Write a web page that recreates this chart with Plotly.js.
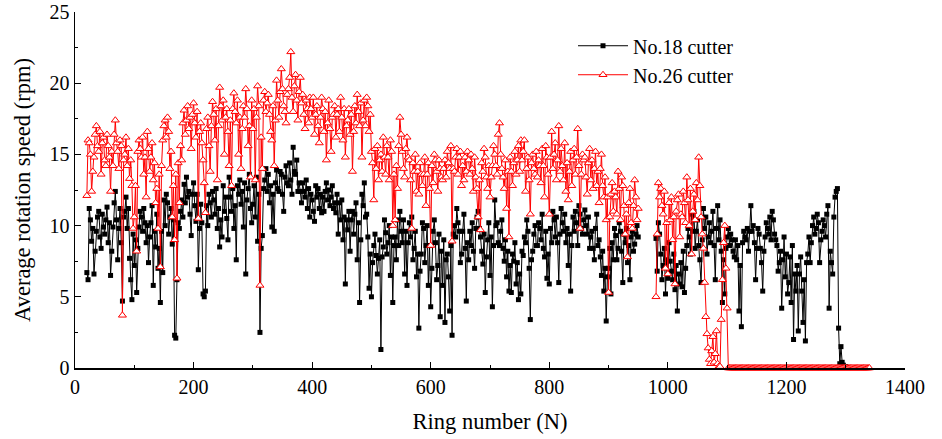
<!DOCTYPE html>
<html>
<head>
<meta charset="utf-8">
<script src="https://cdn.plot.ly/plotly-3.0.1.min.js"></script>
<style>html,body{margin:0;padding:0;background:#fff;}</style>
</head>
<body>
<div id="chart" style="width:942px;height:439px;"></div>
<script>
// Ring numbers: first sampled ring and sampling step
const ringStart = 20;
const ringStep = 2;

// No.18 cutter, average rotation speed (rpm), rings 20..1300 every 2 rings (null = no data)
const cutter18 = [
  6.7,6.2, 11.2,10.4, 8.9,9.8, 6.6,8.2, 9.6,10.6, 11.0,9.2, 8.4,10.8, 9.9,9.4, 10.4,11.3, 8.8,10.2,
  6.5,8.2, 9.9,11.6, 12.4,10.4, 7.6,9.8, 11.2,8.8, 4.7,10.6, 11.0,12.0, 9.8,11.2, 7.7,6.2, 4.8,9.4,
  7.2,9.0, 5.3,8.4, 9.9,11.0, 10.6,9.6, 11.2,10.2, 8.8,10.0, 7.4,9.2, 10.2,11.4, 5.8,9.6, 8.5,10.8,
  7.0,8.4, 4.6,9.6, 6.7,11.8, 10.0,12.2, 11.6,9.4, 10.6,11.2, 8.7,10.4, 2.3,2.1, 6.2,10.2, 9.8,11.0,
  11.8,10.6, 12.9,11.6, 13.4,12.0, 12.4,10.8, 9.3,12.2, 13.0,11.4, 10.3,12.2, 6.9,9.8, 11.5,10.2, 5.2,5.0,
  5.4,11.4, 10.0,12.2, 11.6,10.6, 12.4,11.8, 10.8,12.6, 9.8,11.2, 8.5,10.4, 9.2,12.8, 11.0,12.0, 10.5,9.0,
  13.4,12.0, 11.0,12.6, 9.8,11.4, 7.6,12.8, 12.2,13.2, 11.5,12.4, 9.9,13.0, 6.6,11.8, 12.6,13.6, 11.2,10.2,
  11.5,12.8, 10.6,13.4, 8.9,12.2, 2.5,8.4, 9.3,12.6, 13.2,14.0, 12.4,13.6, 11.6,12.8, 9.9,12.2, 9.6,13.0,
  13.9,12.6, 12.4,13.8, 13.6,12.2, 11.0,13.4, 14.2,13.0, 12.8,14.4, 13.2,12.2, 15.5,13.8, 13.6,14.6, 12.4,13.0,
  12.4,11.6, 13.0,12.4, 12.0,13.2, 11.2,12.6, 10.6,12.2, 11.8,11.0, 10.3,12.8, 12.0,12.6, 11.2,12.2, 10.9,12.0,
  11.0,12.4, 13.0,11.8, 12.5,11.4, 12.0,12.8, 11.2,11.6, 10.9,12.2, 9.4,11.6, 10.4,11.8, 9.0,10.6, 5.9,10.4,
  9.7,11.0, 8.2,10.4, 11.0,9.4, 10.8,11.6, 7.6,10.2, 4.6,9.0, 12.2,11.4, 13.0,10.6, 10.8,9.2, 5.6,8.0,
  5.0,7.4, 8.6,9.4, 7.9,6.6, 7.7,9.0, 1.3,7.8, 8.5,10.4, 9.5,8.0, 8.8,10.0, 6.5,9.2, 4.6,8.6,
  9.2,7.6, 10.4,8.6, 11.0,9.6, 8.8,10.4, 6.6,9.6, 5.8,8.8, 10.2,9.2, 10.6,7.6, 8.4,9.6, 6.4,8.0,
  2.8,6.8, 8.0,10.2, 9.8,7.4, 8.6,10.0, 5.8,8.6, 4.3,7.0, 9.6,10.4, 8.8,6.2, 7.2,9.4, 3.6,8.2,
  5.8,9.0, 3.2,7.6, 8.0,6.4, 4.0,8.6, 2.3,9.4, 10.0,9.2, 11.2,10.2, 9.6,7.4, 8.0,9.6, 10.8,8.4,
  4.7,8.8, 7.6,9.6, 8.6,10.2, 8.2,7.0, 9.8,10.6, 11.0,9.8, 9.2,8.2, 7.3,9.4, 5.3,7.8, 9.0,10.2,
  6.5,9.2, 4.3,8.6, 11.8,10.0, 10.2,8.8, 8.6,9.6, 10.4,8.4, 7.5,9.0, 6.4,8.2, 5.4,7.2, 5.3,8.0,
  7.5,8.8, 5.9,7.4, 4.8,6.6, 5.2,8.2, 7.9,9.2, 8.8,10.4, 9.6,7.0, 3.4,7.6, 8.2,9.4, 10.0,8.6,
  8.6,10.2, 9.8,9.0, 10.8,8.4, 7.8,9.6, 6.3,8.0, 5.9,9.8, 8.8,11.0, 10.4,9.2, 10.6,8.8, 6.0,9.4,
  11.2,10.2, 9.6,10.8, 8.8,9.8, 7.2,9.4, 5.4,8.6, 10.6,9.6, 11.0,10.2, 8.6,11.4, 10.8,9.8, 9.4,10.4,
  11.1,10.0, 9.4,10.6, 8.4,9.2, 9.6,8.4, 7.6,9.8, 10.8,8.6, 9.0,7.8, 6.5,8.2, 5.4,7.0, 3.3,6.4,
  7.0,8.4, 5.2,8.8, 7.6,9.8, 9.3,7.6, 8.4,10.2, 9.6,8.2, 6.0,9.4, 8.8,9.8, 7.4,8.6, 6.2,9.2,
  9.6,8.2, 8.7,9.4, 10.0,9.2, null,null, null,null, null,null, null,null, null,null, null,null, null,null,
  9.1,6.8, 10.2,9.4, 8.0,6.2, 7.2,8.4, 5.2,7.6, 6.3,8.8, 7.5,6.8, 6.2,8.0, 5.5,7.2, 4.0,6.6,
  5.9,7.4, 5.7,8.2, 5.3,7.0, 8.6,9.8, 9.2,8.0, 10.8,9.6, 11.0,8.4, 9.6,10.4, 8.6,7.6, 6.0,9.0,
  11.2,9.8, 10.6,8.0, 9.2,10.2, 8.8,9.6, 11.0,8.6, 6.2,9.8, 11.4,9.0, 10.4,8.2, 4.6,7.6, 5.2,8.4,
  9.2,9.8, 8.6,9.4, 9.0,8.2, 7.8,9.0, 7.6,8.6, 4.0,7.2, 2.9,8.8, 9.6,9.2, 9.0,9.8, 8.2,9.6,
  11.4,9.6, 10.0,8.8, 6.2,8.4, 9.8,9.4, 8.4,7.4, 5.4,8.2, 9.2,10.2, 9.8,9.4, 10.6,9.0, 11.0,10.4,
  9.4,9.0, 8.6,6.8, 7.4,8.2, 4.2,7.6, 9.2,6.4, 8.0,5.2, 6.0,7.8, 4.6,8.6, 2.0,6.6, 5.4,7.2,
  2.6,6.6, 7.8,5.4, 3.2,6.2, 1.9,7.4, 8.0,9.2, 7.4,8.8, 10.0,10.6, 9.4,9.8, 10.8,10.2, 7.4,9.0,
  9.6,10.4, 10.0,9.2, 10.8,11.4, 4.2,8.2, 7.4,6.6, 10.6,12.0, 12.4,12.6, 2.8,0.3, 1.5,0.4, 0.2,0.1,
  0.1
];

// No.26 cutter, average rotation speed (rpm), rings 20..1340 every 2 rings (null = no data)
const cutter26 = [
  12.1,16.0, 15.8,15.0, 12.4,13.8, 14.8,16.4, 17.0,15.6, 15.2,16.6, 13.6,15.8, 16.2,14.6, 14.2,16.4, 15.6,14.8,
  12.4,15.2, 14.2,16.4, 17.4,15.8, 15.2,14.0, 16.0,15.6, 3.7,14.6, 15.0,16.2, 14.2,15.4, 13.3,14.6, 12.8,9.8,
  10.6,12.8, 8.2,15.2, 16.0,15.4, 14.8,16.2, 13.6,14.8, 12.0,16.6, 15.4,13.8, 14.8,15.8, 13.2,14.4, 11.6,12.6,
  9.8,13.6, 7.1,14.2, 16.0,17.0, 17.4,16.2, 17.6,16.6, 14.0,15.2, 10.6,12.8, 9.0,13.6, 6.3,14.4, 11.6,15.6,
  14.6,17.2, 18.1,16.4, 17.4,18.4, 16.8,17.6, 15.4,17.8, 18.6,17.2, 16.2,18.0, 10.5,16.6, 17.2,15.8, 14.6,13.0,
  10.9,16.8, 17.6,15.6, 13.8,17.0, 18.7,17.8, 16.0,18.2, 13.2,17.0, 19.7,18.4, 17.4,18.8, 15.0,17.6, 18.2,16.6,
  14.2,17.4, 12.8,18.2, 19.3,18.0, 17.2,18.8, 15.0,17.6, 14.0,16.8, 18.4,17.6, 19.6,18.2, 15.6,17.0, 13.4,18.8,
  16.8,18.2, 13.2,17.6, 19.8,18.4, 5.8,16.2, 14.0,18.8, 19.4,18.0, 18.6,19.2, 17.8,16.6, 16.0,18.4, 14.2,17.4,
  20.2,18.8, 17.6,19.4, 21.0,19.6, 18.4,18.0, 17.2,19.2, 19.6,20.4, 22.2,19.0, 18.0,19.8, 20.6,18.8, 17.4,19.4,
  20.4,18.6, 19.2,17.8, 16.8,18.8, 18.2,17.2, 19.0,18.2, 17.6,19.0, 16.4,17.8, 18.4,17.0, 15.8,17.6, 19.0,18.2,
  16.6,18.0, 14.6,17.2, 18.8,16.8, 15.2,17.6, 17.8,18.4, 16.2,17.8, 18.2,16.6, 19.0,17.6, 16.0,18.2, 14.8,17.0,
  17.4,18.2, 16.4,17.8, 13.8,16.6, 18.4,17.2, 19.2,18.0, 17.0,18.6, 14.8,17.4, 18.8,17.0, 19.0,18.4, 16.6,17.8,
  15.2,14.4, 11.8,15.4, 14.0,15.6, 13.2,14.6, 15.0,13.8, 16.2,14.8, 13.6,15.6, 14.8,13.2, 16.0,15.2, 10.0,13.6,
  10.4,14.2, 12.6,15.6, 17.6,16.4, 15.2,14.0, 13.4,15.4, 16.2,14.8, 14.6,13.2, 9.8,14.4, 13.8,15.0, 12.4,13.8,
  12.2,14.4, 13.6,12.8, 13.6,14.8, 11.4,13.6, 14.4,12.6, 8.6,14.2, 13.0,15.0, 14.6,13.8, 12.4,14.6, 14.0,13.4,
  13.2,14.0, 14.6,13.4, 15.2,14.4, 14.0,15.6, 8.9,14.0, 13.8,14.8, 15.4,13.6, 14.8,15.2, 12.8,14.2, 13.2,14.8,
  13.8,15.2, 14.6,13.6, 15.0,14.0, 12.4,14.8, 13.4,12.6, 10.6,13.2, 9.7,14.4, 13.8,15.4, 14.8,13.4, 12.6,14.2,
  12.0,13.4, 14.2,15.6, 15.0,14.2, 13.6,16.4, 17.2,15.0, 14.0,13.4, 12.6,14.6, 11.2,13.8, 9.2,14.8, 13.8,12.8,
  14.4,15.2, 13.6,14.6, 15.6,13.8, 16.0,14.6, 15.2,16.0, 12.4,14.0, 14.8,13.2, 10.8,14.4, 15.0,14.0, 13.6,15.2,
  13.4,14.6, 14.2,13.0, 15.4,14.2, 12.0,15.6, 14.8,13.6, 10.8,14.8, 16.6,14.0, 15.0,15.8, 13.2,14.6, 17.0,13.8,
  15.4,14.2, 13.2,15.8, 12.4,14.4, 11.8,13.8, 15.2,12.8, 14.6,15.4, 13.6,14.8, 16.8,14.2, 9.8,13.6, 15.0,14.6,
  14.8,13.4, 12.2,14.4, 15.4,13.2, 14.6,12.6, 14.0,15.2, 12.8,13.8, 11.6,14.0, 15.0,12.8, 12.0,13.4, 10.4,12.0,
  5.3,10.6, 12.2,13.0, 11.0,12.4, 12.0,10.8, 13.8,12.6, 10.4,13.4, 12.8,11.4, 9.4,10.8, 7.8,11.6, 12.6,10.2,
  9.8,11.4, 13.2,12.0, 10.4,11.2, null,null, null,null, null,null, null,null, null,null, null,null, null,null,
  5.0,9.4, 13.0,12.0, 12.6,11.4, 10.8,12.4, 7.0,10.2, 6.6,11.6, 10.4,12.0, 9.0,10.6, 5.9,11.0, 11.8,12.2,
  9.2,10.8, 10.6,12.4, 11.6,10.2, 13.4,11.8, 10.0,12.6, 8.0,11.0, 12.2,10.4, 13.0,11.8, 14.8,12.8, 10.6,9.4,
  8.4,6.0, 3.6,2.4, 1.4,0.6, 0.3,1.2, 2.2,0.4, 1.0,2.6, 0.3,0.1, 0.1,3.4, 6.2,8.8, 10.0,7.0,
  4.2,0, 0,0, 0,0, 0,0, 0,0, 0,0, 0,0, 0,0, 0,0, 0,0,
  0,0, 0,0, 0,0, 0,0, 0,0, 0,0, 0,0, 0,0, 0,0, 0,0,
  0,0, 0,0, 0,0, 0,0, 0,0, 0,0, 0,0, 0,0, 0,0, 0,0,
  0,0, 0,0, 0,0, 0,0, 0,0, 0,0, 0,0, 0,0, 0,0, 0,0,
  0,0, 0,0, 0,0, 0,0, 0,0, 0,0, 0,0, 0,0, 0,0, 0,0,
  0,0, 0,0, 0,0, 0,0, 0,0, 0,0, 0,0, 0,0, 0,0, 0,0,
  0
];

const seriesNames = ['No.18 cutter', 'No.26 cutter'];
const xTickLabels = ['0', '200', '400', '600', '800', '1000', '1200', '1400'];
const yTickLabels = ['0', '5', '10', '15', '20', '25'];

const rings = (arr) => arr.map((_, i) => ringStart + i * ringStep);

const traces = [
  {
    x: rings(cutter18), y: cutter18, name: seriesNames[0],
    type: 'scatter', mode: 'lines+markers', connectgaps: false, cliponaxis: false,
    line: {color: '#000000', width: 1},
    marker: {symbol: 'square', size: 5, color: '#000000'}
  },
  {
    x: rings(cutter26), y: cutter26, name: seriesNames[1],
    type: 'scatter', mode: 'lines+markers', connectgaps: false, cliponaxis: false,
    line: {color: '#ff0000', width: 1},
    marker: {symbol: 'triangle-up', size: 7, color: '#ffffff', line: {color: '#ff0000', width: 1}}
  }
];

const serif = 'Times New Roman, Liberation Serif, serif';
const axisCommon = {
  showgrid: false, zeroline: false, showline: true,
  linecolor: '#000', linewidth: 1.5,
  ticks: 'inside', ticklen: 6, tickwidth: 1.2, tickcolor: '#000',
  tickfont: {family: serif, size: 20, color: '#000'},
  mirror: false
};

const layout = {
  width: 942, height: 439,
  margin: {l: 75, r: 37, t: 12, b: 71},
  paper_bgcolor: '#fff', plot_bgcolor: '#fff',
  font: {family: serif, color: '#000', size: 20},
  showlegend: true,
  xaxis: Object.assign({}, axisCommon, {
    range: [0, 1400],
    tickmode: 'array',
    tickvals: xTickLabels.map(Number), ticktext: xTickLabels,
    minor: {dtick: 100, tick0: 0, ticks: 'inside', ticklen: 3, tickcolor: '#000', tickwidth: 1},
    title: {text: 'Ring number (N)', font: {family: serif, size: 22.5, color: '#000'}, standoff: 16}
  }),
  yaxis: Object.assign({}, axisCommon, {
    range: [0, 25],
    tickmode: 'array',
    tickvals: yTickLabels.map(Number), ticktext: yTickLabels,
    minor: {dtick: 2.5, tick0: 0, ticks: 'inside', ticklen: 3, tickcolor: '#000', tickwidth: 1},
    title: {text: 'Average rotation speed (rpm)', font: {family: serif, size: 22.5, color: '#000'}, standoff: 12}
  }),
  legend: {
    x: 0.6, y: 0.96, xanchor: 'left', yanchor: 'top',
    bgcolor: 'rgba(0,0,0,0)', borderwidth: 0,
    font: {family: serif, size: 20, color: '#000'},
    itemwidth: 50, tracegroupgap: 0
  }
};

Plotly.newPlot('chart', traces, layout, {displayModeBar: false, staticPlot: true});
</script>
</body>
</html>
